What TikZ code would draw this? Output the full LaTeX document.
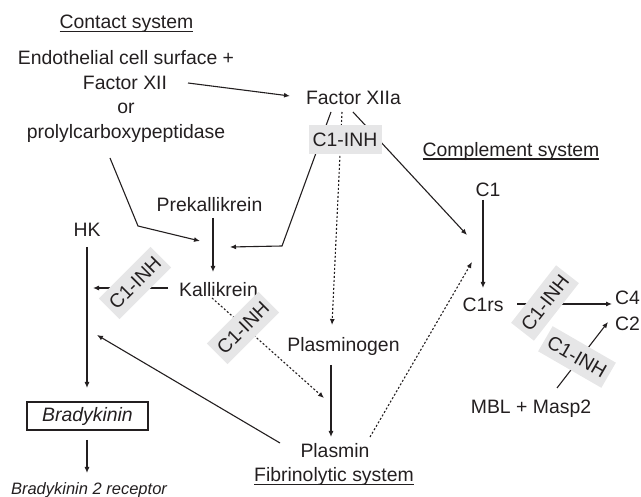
\documentclass[tikz,border=0pt]{standalone}
\usepackage{fontspec}
\setmainfont{Liberation Sans}
\usetikzlibrary{arrows.meta}
\definecolor{ink}{RGB}{35,31,32}
\definecolor{boxgray}{RGB}{230,230,231}
\begin{document}
\begin{tikzpicture}[x=1pt,y=-1pt,
  every node/.style={inner sep=0pt, outer sep=0pt, text=ink, font=\fontsize{19.4}{23}\selectfont},
  lbl/.style={anchor=base},
  arr/.style={draw=ink, line width=1.1pt, -{Latex[length=6pt,width=5pt]}},
  dotarr/.style={arr, dash pattern=on 2pt off 2pt},
  plain/.style={draw=ink, line width=1.1pt},
  ul/.style={draw=ink, line width=1.1pt},
  inh/.style={fill=boxgray, minimum width=73pt, minimum height=29pt, inner sep=0pt}]
\useasboundingbox (0,0) rectangle (641,497);
% text nodes
\node[lbl] (cs) at (126.5,29) {Contact system};
\node[lbl] (endo) at (126,65) {Endothelial cell surface +};
\node[lbl] (fxii) at (125,90) {Factor XII};
\node[lbl] (or) at (126,114) {or};
\node[lbl] (prolyl) at (126,139) {prolylcarboxypeptidase};
\node[lbl] (fxiia) at (353.5,105) {Factor XIIa};
\node[lbl] (comp) at (511,156.5) {Complement system};
\node[lbl] (c1) at (488,197) {C1};
\node[lbl] (c1rs) at (483,312) {C1rs};
\node[anchor=base west] (c4) at (615,305) {C4};
\node[anchor=base west] (c2) at (615,331) {C2};
\node[lbl] (mbl) at (531,414) {MBL + Masp2};
\node[lbl] (prek) at (209.5,212) {Prekallikrein};
\node[lbl] (kal) at (218.5,297) {Kallikrein};
\node[lbl] (hk) at (87,237) {HK};
\node[lbl] (plg) at (343.5,352) {Plasminogen};
\node[lbl] (pl) at (335,458) {Plasmin};
\node[lbl] (fib) at (334,482) {Fibrinolytic system};
\node[draw=ink, line width=1.1pt, minimum width=121pt, minimum height=28pt,
      font=\fontsize{19.4}{23}\selectfont\itshape] (brady) at (87.5,416) {Bradykinin};
\node[lbl, font=\fontsize{16.5}{20}\selectfont\itshape] (b2r) at (89,495) {Bradykinin 2 receptor};
% underlines
\draw[ul] ([yshift=-2.5pt]cs.base west) -- ([yshift=-2.5pt]cs.base east);
\draw[ul] ([yshift=-2.5pt]comp.base west) -- ([yshift=-2.5pt]comp.base east);
\draw[ul] ([yshift=-2.5pt]fib.base west) -- ([yshift=-2.5pt]fib.base east);
% connector end points
\coordinate (a1) at (188,83);  \coordinate (a2) at (290,96);
\coordinate (b1) at (331,112); \coordinate (b2) at (282,246); \coordinate (b3) at (230,247);
\coordinate (d1) at (342,112); \coordinate (d2) at (332,325);
\coordinate (e1) at (353,112); \coordinate (e2) at (467,235);
\coordinate (f1) at (110,158); \coordinate (f2) at (138,226); \coordinate (f3) at (200,241);
\coordinate (g1) at (213,218); \coordinate (g2) at (213,272);
\coordinate (h1) at (168,288); \coordinate (h2) at (93,288);
\coordinate (i1) at (212,298); \coordinate (i2) at (324,398);
\coordinate (j1) at (87,247);  \coordinate (j2) at (87,388);
\coordinate (k1) at (87,440);  \coordinate (k2) at (87,473);
\coordinate (l1) at (331,365); \coordinate (l2) at (331,437);
\coordinate (m1) at (280,443); \coordinate (m2) at (97,335);
\coordinate (n1) at (370,437); \coordinate (n2) at (472,262);
\coordinate (o1) at (483,200); \coordinate (o2) at (483,288);
\coordinate (p1) at (517,304); \coordinate (p2) at (612,304);
\coordinate (q1) at (557,388); \coordinate (q2) at (608,322);
% connectors
\draw[arr] (a1) -- (a2);
\draw[arr] (b1) -- (b2) -- (b3);
\draw[dotarr] (d1) -- (d2);
\draw[arr] (e1) -- (e2);
\draw[arr] (f1) -- (f2) -- (f3);
\draw[arr] (g1) -- (g2);
\draw[arr] (h1) -- (h2);
\draw[dotarr] (i1) -- (i2);
\draw[arr] (j1) -- (j2);
\draw[arr] (k1) -- (k2);
\draw[arr] (l1) -- (l2);
\draw[arr] (m1) -- (m2);
\draw[dotarr] (n1) -- (n2);
\draw[arr] (o1) -- (o2);
\draw[arr] (p1) -- (p2);
\draw[arr] (q1) -- (q2);
% inhibitor boxes
\node[inh] (inh1) at (345,139.5) {C1-INH};
\node[inh, rotate=45] (inh2) at (135,283) {C1-INH};
\node[inh, rotate=45] (inh3) at (243,328) {C1-INH};
\node[inh, rotate=52] (inh4) at (545,303) {C1-INH};
\node[inh, rotate=-30] (inh5) at (577,357) {C1-INH};
\end{tikzpicture}
\end{document}
